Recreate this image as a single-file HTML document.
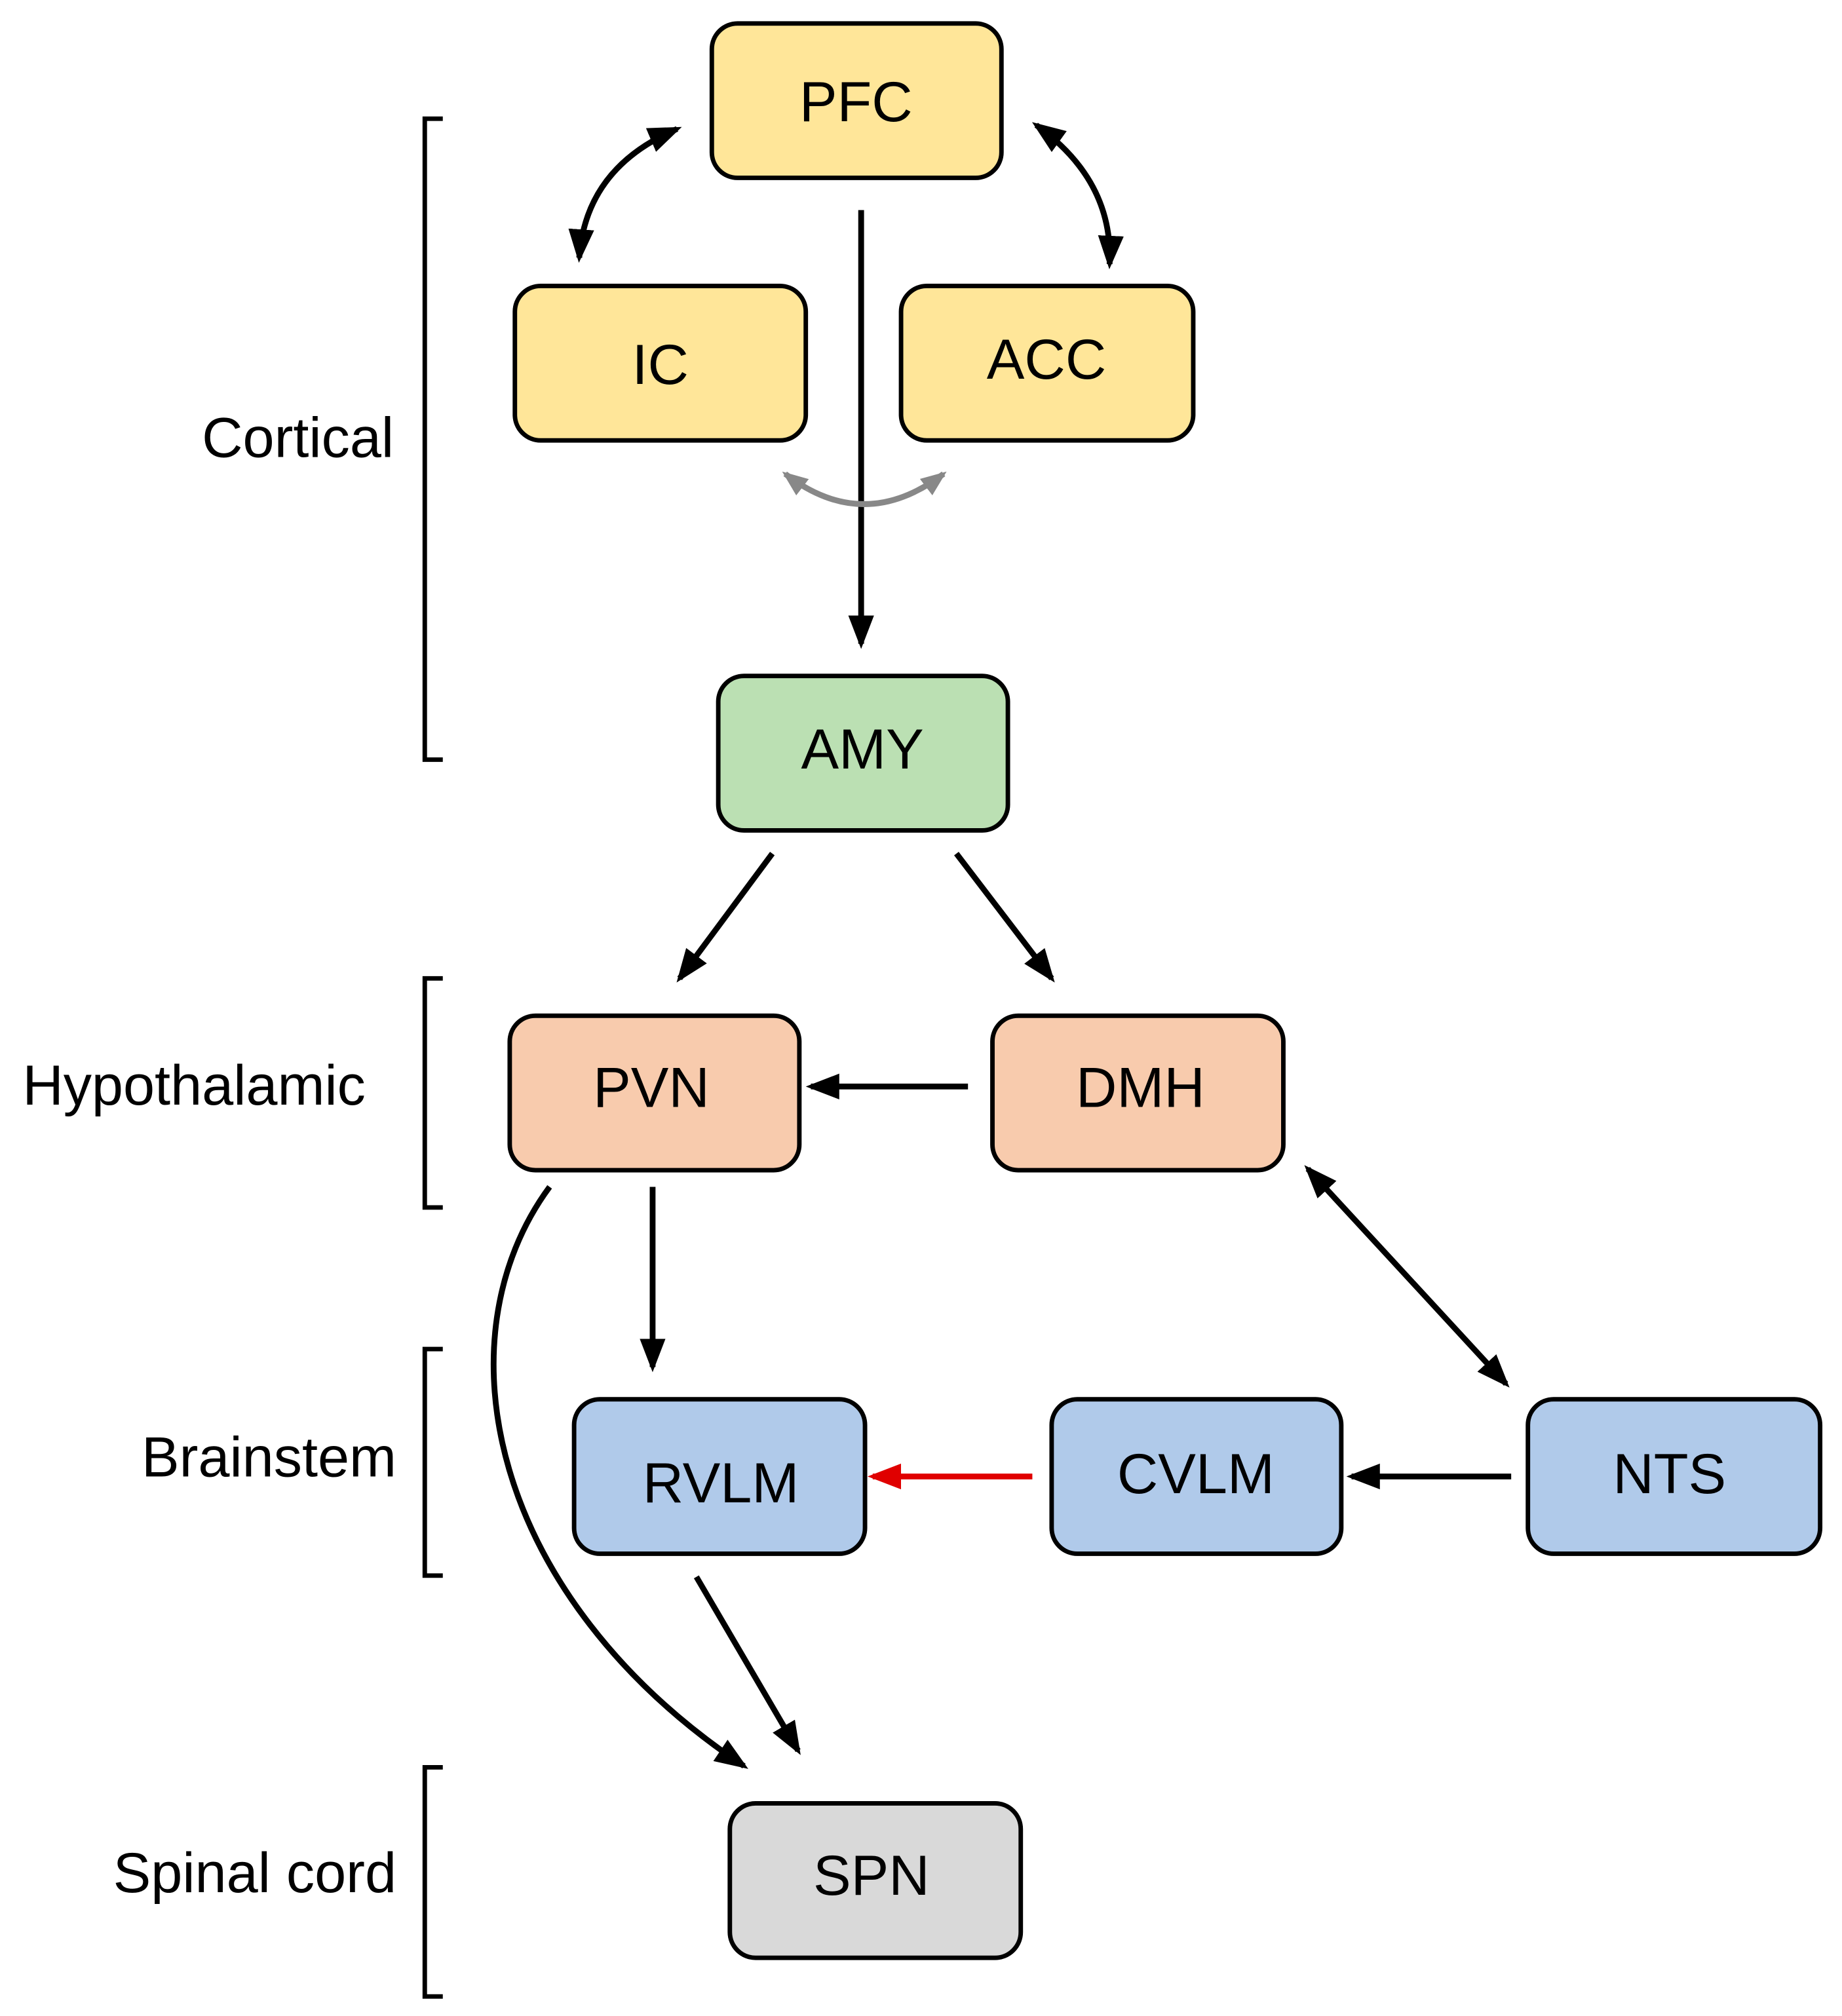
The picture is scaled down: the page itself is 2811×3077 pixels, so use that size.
<!DOCTYPE html>
<html><head><style>html,body{margin:0;padding:0;background:#fff}svg{display:block}</style></head><body>
<svg width="2811" height="3077" viewBox="0 0 1431 1566" xmlns="http://www.w3.org/2000/svg">
<defs>
<marker id="a" markerUnits="userSpaceOnUse" markerWidth="28" markerHeight="24" refX="22" refY="12" orient="auto-start-reverse"><path d="M0,2 L26,12 L0,22 Z" fill="#000"/></marker>
<marker id="r" markerUnits="userSpaceOnUse" markerWidth="28" markerHeight="24" refX="22" refY="12" orient="auto-start-reverse"><path d="M0,2 L26,12 L0,22 Z" fill="#e00000"/></marker>
<marker id="g" markerUnits="userSpaceOnUse" markerWidth="22" markerHeight="18" refX="17" refY="9" orient="auto-start-reverse"><path d="M0,1 L20,9 L0,17 Z" fill="#888"/></marker>
</defs>
<g font-family="Liberation Sans, Arial, sans-serif" font-size="44">
<g stroke="#000" stroke-width="3.5">
<rect x="553" y="18" width="225" height="120" rx="20" fill="#FFE699"/>
<rect x="400" y="222" width="226" height="120" rx="20" fill="#FFE699"/>
<rect x="700" y="222" width="227" height="120" rx="20" fill="#FFE699"/>
<rect x="558" y="525" width="225" height="120" rx="20" fill="#BBE0B3"/>
<rect x="396" y="789" width="225" height="120" rx="20" fill="#F8CBAD"/>
<rect x="771" y="789" width="226" height="120" rx="20" fill="#F8CBAD"/>
<rect x="446" y="1087" width="226" height="120" rx="20" fill="#B0CAEA"/>
<rect x="817" y="1087" width="225" height="120" rx="20" fill="#B0CAEA"/>
<rect x="1187" y="1087" width="227" height="120" rx="20" fill="#B0CAEA"/>
<rect x="567" y="1401" width="226" height="120" rx="20" fill="#D9D9D9"/>
</g>
<g text-anchor="middle" fill="#000">
<text x="665" y="94">PFC</text>
<text x="513" y="298">IC</text>
<text x="813" y="294">ACC</text>
<text x="670" y="597">AMY</text>
<text x="506" y="860">PVN</text>
<text x="886" y="860">DMH</text>
<text x="560" y="1167">RVLM</text>
<text x="929" y="1160">CVLM</text>
<text x="1297" y="1160">NTS</text>
<text x="677" y="1472">SPN</text>
</g>
<g text-anchor="end" fill="#000">
<text x="306" y="355">Cortical</text>
<text x="284" y="858">Hypothalamic</text>
<text x="308" y="1147">Brainstem</text>
<text x="308" y="1470">Spinal cord</text>
</g>
<g fill="none" stroke="#000" stroke-width="3.5">
<path d="M344,92 H330 V590 H344"/>
<path d="M344,760 H330 V938 H344"/>
<path d="M344,1048 H330 V1224 H344"/>
<path d="M344,1373 H330 V1551 H344"/>
</g>
<g fill="none" stroke="#000" stroke-width="4.5">
<path d="M669,163 V500" marker-end="url(#a)"/>
<path d="M526,100 Q455,130 450,200" marker-start="url(#a)" marker-end="url(#a)"/>
<path d="M805,97 Q865,140 862,205" marker-start="url(#a)" marker-end="url(#a)"/>
<path d="M600,663 L528,760" marker-end="url(#a)"/>
<path d="M743,663 L817,760" marker-end="url(#a)"/>
<path d="M752,844 H630" marker-end="url(#a)"/>
<path d="M507,922 V1062" marker-end="url(#a)"/>
<path d="M427,922 C340,1040 380,1240 578,1372" marker-end="url(#a)"/>
<path d="M1016,908 L1170,1075" marker-start="url(#a)" marker-end="url(#a)"/>
<path d="M1174,1147 H1050" marker-end="url(#a)"/>
<path d="M541,1225 L620,1360" marker-end="url(#a)"/>
</g>
<path d="M802,1147 H678" fill="none" stroke="#e00000" stroke-width="4.5" marker-end="url(#r)"/>
<path d="M610,368 Q671,415 733,368" fill="none" stroke="#888" stroke-width="4.5" marker-start="url(#g)" marker-end="url(#g)"/>
</g>
</svg>
</body></html>
